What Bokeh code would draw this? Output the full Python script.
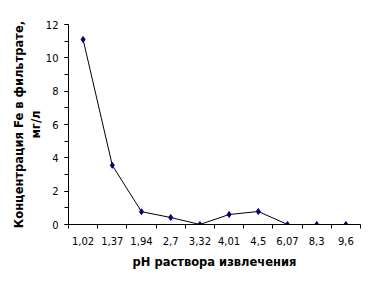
import numpy as np
from bokeh.plotting import figure
from bokeh.models import FixedTicker, Range1d
from bokeh.embed import file_html
from bokeh.resources import INLINE

categories = ["1,02", "1,37", "1,94", "2,7", "3,32", "4,01", "4,5", "6,07", "8,3", "9,6"]
fe_values = [11.1, 3.55, 0.77, 0.42, 0.0, 0.6, 0.78, 0.0, 0.0, 0.0]
y_ticks = [0, 2, 4, 6, 8, 10, 12]

x = np.arange(len(categories)) + 0.5

p = figure(width=385, height=290, output_backend="svg", toolbar_location=None,
           x_range=Range1d(0, len(categories)), y_range=Range1d(0, 12),
           min_border_left=68, min_border_right=25, min_border_top=24, min_border_bottom=66)
p.outline_line_color = None
p.xgrid.grid_line_color = None
p.ygrid.grid_line_color = None
p.background_fill_color = "white"
p.border_fill_color = "white"

p.line(x, fe_values, line_color="black", line_width=1)
p.scatter(x, fe_values, marker="diamond", size=6, fill_color="#000080", line_color="#000080")

font = "DejaVu Sans"
# x axis
p.xaxis.ticker = FixedTicker(ticks=list(x), minor_ticks=list(range(len(categories) + 1)))
p.xaxis.major_label_overrides = {float(v): c for v, c in zip(x, categories)}
p.xaxis.minor_tick_out = 4
p.xaxis.minor_tick_in = 0
p.xaxis.axis_label = "pH раствора извлечения"
# y axis
p.yaxis.ticker = FixedTicker(ticks=y_ticks, minor_ticks=list(range(13)))
p.yaxis.major_tick_out = 4
p.yaxis.major_tick_in = 0
p.yaxis.minor_tick_out = 4
p.yaxis.minor_tick_in = 0
p.yaxis.axis_label = "Концентрация Fe в фильтрате,\nмг/л"

for ax in (p.xaxis[0], p.yaxis[0]):
    ax.axis_line_color = "black"
    ax.major_tick_line_color = "black" if ax is p.yaxis[0] else None
    ax.minor_tick_line_color = "black"
    ax.major_label_text_font = font
    ax.major_label_text_font_size = "10px"
    ax.major_label_text_color = "black"
    ax.axis_label_text_font = font
    ax.axis_label_text_font_size = "11.5px"
    ax.axis_label_text_font_style = "bold"
    ax.axis_label_text_color = "black"
    ax.major_label_standoff = 6

p.xaxis.axis_label_standoff = 7
p.yaxis.axis_label_standoff = 0

open("out.html", "w").write(file_html(p, INLINE))
